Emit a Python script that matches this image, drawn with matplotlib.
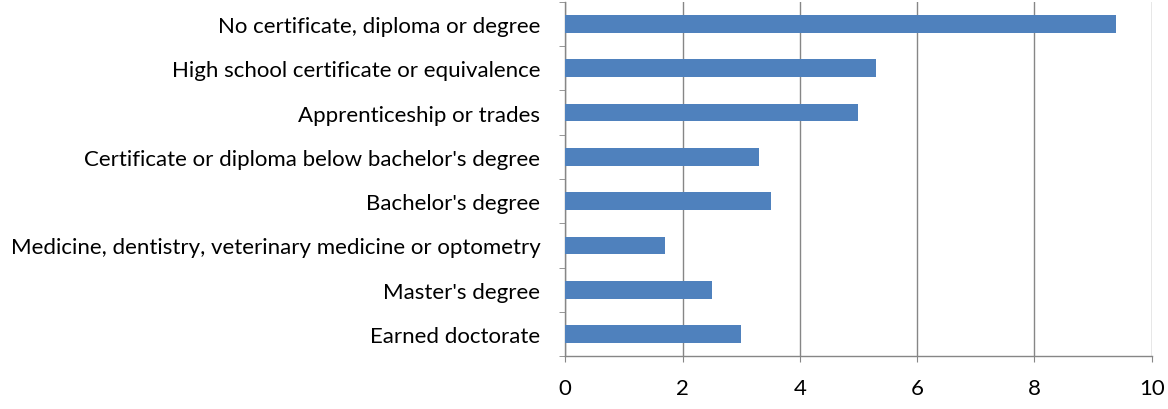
import matplotlib.pyplot as plt
import numpy as np

categories = [
    "No certificate, diploma or degree",
    "High school certificate or equivalence",
    "Apprenticeship or trades",
    "Certificate or diploma below bachelor's degree",
    "Bachelor's degree",
    "Medicine, dentistry, veterinary medicine or optometry",
    "Master's degree",
    "Earned doctorate",
]
values = [9.4, 5.3, 5.0, 3.3, 3.5, 1.7, 2.5, 3.0]
x_ticks = [0, 2, 4, 6, 8, 10]

plt.rcParams['font.family'] = ['Lato', 'DejaVu Sans']

fig = plt.figure(figsize=(11.68, 4.10), dpi=100)
ax = fig.add_axes([0.484, 0.129, 0.502, 0.864])

n = len(categories)
y = np.arange(n)[::-1]  # first category at top
ax.barh(y, values, height=0.4, color='#4F81BD', zorder=3)

ax.set_xlim(0, 10)
ax.set_ylim(-0.5, n - 0.5)
ax.set_xticks(x_ticks)
ax.set_xticklabels([str(t) for t in x_ticks])
ax.set_yticks(y)
ax.set_yticklabels(categories)
ax.set_yticks(np.arange(n + 1) - 0.5, minor=True)

grid_col = '#868686'
ax.grid(axis='x', color=grid_col, linewidth=1, zorder=0)
for s in ['top', 'right']:
    ax.spines[s].set_visible(False)
for s in ['left', 'bottom']:
    ax.spines[s].set_color(grid_col)
    ax.spines[s].set_linewidth(1)

ax.tick_params(axis='y', which='major', length=0, pad=18, labelsize=16)
ax.tick_params(axis='y', which='minor', length=4, color=grid_col, direction='out')
ax.tick_params(axis='x', length=4, color=grid_col, pad=12, labelsize=16)

fig.savefig('out.png', dpi=100)
